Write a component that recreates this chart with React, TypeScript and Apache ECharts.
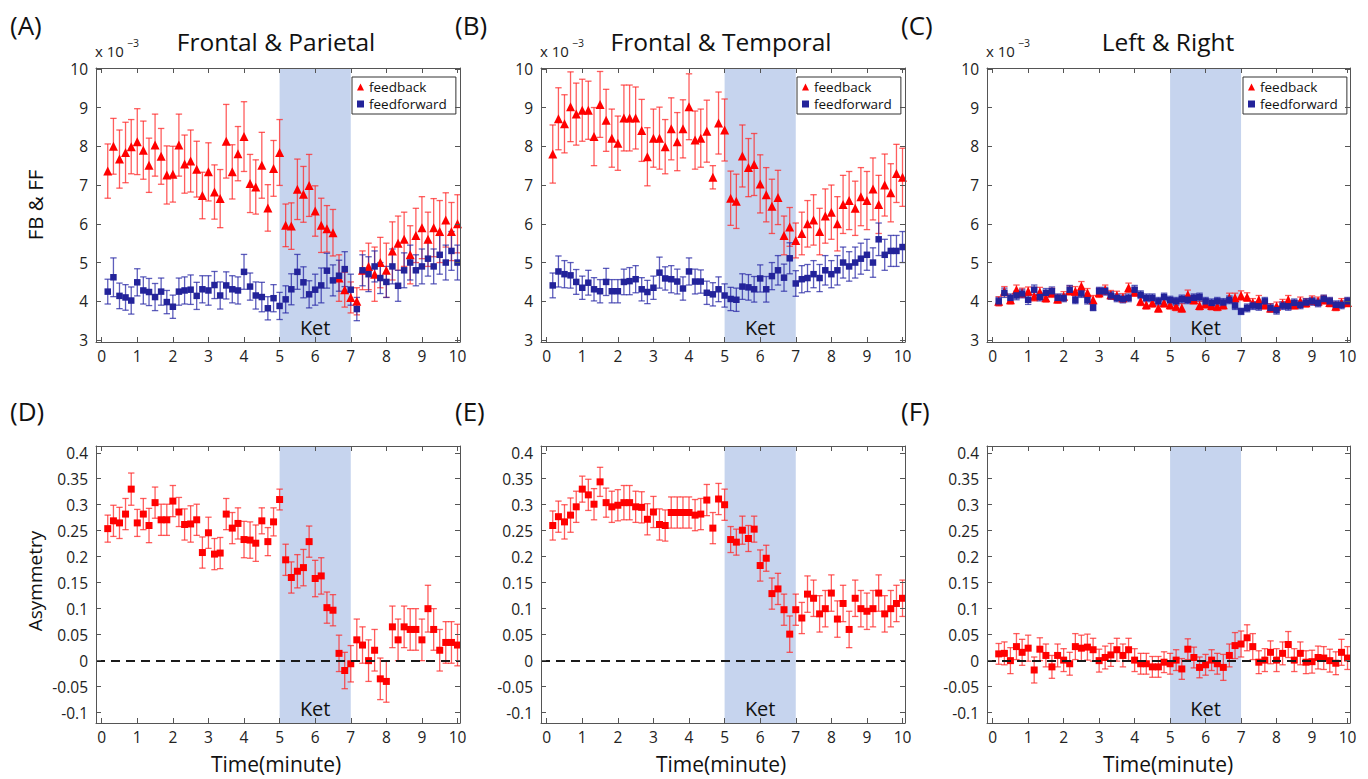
import React, { useEffect, useRef } from "react";
import * as echarts from "echarts";

const FONT = "'Open Sans', 'Noto Sans', sans-serif";

const times = [0.17, 0.33, 0.5, 0.67, 0.83, 1, 1.17, 1.33, 1.5, 1.67, 1.83, 2, 2.17, 2.33, 2.5, 2.67, 2.83, 3, 3.17, 3.33,
  3.5, 3.67, 3.83, 4, 4.17, 4.33, 4.5, 4.67, 4.83, 5, 5.17, 5.33, 5.5, 5.67, 5.83, 6, 6.17, 6.33, 6.5, 6.67,
  6.83, 7, 7.17, 7.33, 7.5, 7.67, 7.83, 8, 8.17, 8.33, 8.5, 8.67, 8.83, 9, 9.17, 9.33, 9.5, 9.67, 9.83, 10];

const timeTicks = [0, 1, 2, 3, 4, 5, 6, 7, 8, 9, 10];
const fbTicks = [3, 4, 5, 6, 7, 8, 9, 10];
const asymTicks = [-0.1, -0.05, 0, 0.05, 0.1, 0.15, 0.2, 0.25, 0.3, 0.35, 0.4];

const panelLetters = ["(A)", "(B)", "(C)", "(D)", "(E)", "(F)"];
const panelTitles = ["Frontal & Parietal", "Frontal & Temporal", "Left & Right"];
const ketStart = 5;
const ketEnd = 7;

// (A) Frontal & Parietal, x 10^-3
const fpFeedback = [7.36, 8.0, 7.67, 7.84, 7.99, 8.12, 7.9, 7.51, 8.03, 7.74, 7.26, 7.28, 8.03, 7.54, 7.62, 7.41, 6.73, 7.34, 6.82, 6.65,
  8.13, 7.34, 7.81, 8.25, 7.04, 6.95, 7.51, 6.41, 7.43, 7.84, 5.96, 5.94, 6.89, 6.76, 6.99, 6.33, 5.96, 5.87, 5.77, 4.6,
  4.3, 4.1, 4.0, 4.8, 4.9, 4.7, 5.0, 4.8, 5.3, 5.5, 5.6, 5.2, 5.7, 5.9, 5.6, 5.9, 5.8, 6.1, 5.8, 6.0];
const fpFeedbackErr = [0.7, 0.72, 0.75, 0.78, 0.7, 0.85, 0.75, 0.7, 0.8, 0.72, 0.75, 0.72, 0.8, 0.75, 0.8, 0.72, 0.6, 0.75, 0.7, 0.75,
  0.95, 0.7, 0.7, 0.9, 0.75, 0.7, 0.85, 0.6, 0.72, 0.85, 0.55, 0.6, 0.78, 0.72, 0.8, 0.65, 0.7, 0.6, 0.6, 0.6,
  0.45, 0.4, 0.35, 0.5, 0.6, 0.7, 0.65, 0.7, 0.75, 0.7, 0.7, 0.75, 0.7, 0.8, 0.7, 0.75, 0.8, 0.7, 0.75, 0.75];
const fpFeedforward = [4.25, 4.62, 4.14, 4.1, 4.02, 4.49, 4.28, 4.24, 4.11, 4.25, 3.98, 3.86, 4.25, 4.28, 4.3, 4.14, 4.31, 4.28, 4.42, 4.15,
  4.41, 4.31, 4.28, 4.76, 4.38, 4.15, 4.11, 3.82, 4.08, 3.88, 4.05, 4.31, 4.76, 4.49, 4.18, 4.3, 4.41, 4.79, 4.54, 4.66,
  4.83, 4.3, 3.8, 4.8, 4.7, 4.9, 4.6, 4.5, 4.9, 4.4, 4.8, 5.0, 4.8, 4.9, 5.1, 4.9, 5.2, 5.0, 5.3, 5.0];
const fpFeedforwardErr = [0.32, 0.5, 0.33, 0.33, 0.35, 0.35, 0.35, 0.35, 0.35, 0.35, 0.3, 0.3, 0.35, 0.35, 0.38, 0.35, 0.35, 0.38, 0.35, 0.35,
  0.35, 0.35, 0.35, 0.45, 0.35, 0.35, 0.38, 0.3, 0.35, 0.35, 0.35, 0.4, 0.45, 0.4, 0.35, 0.4, 0.45, 0.45, 0.4, 0.4,
  0.45, 0.4, 0.3, 0.4, 0.45, 0.4, 0.4, 0.4, 0.45, 0.4, 0.45, 0.45, 0.4, 0.45, 0.45, 0.45, 0.5, 0.45, 0.5, 0.45];

// (B) Frontal & Temporal, x 10^-3
const ftFeedback = [7.8, 8.71, 8.58, 9.02, 8.83, 8.93, 8.93, 8.25, 9.08, 8.67, 8.21, 8.08, 8.73, 8.73, 8.73, 8.41, 7.73, 8.21, 8.21, 7.99,
  8.45, 8.12, 8.45, 9.02, 8.16, 8.21, 8.39, 7.2, 8.6, 8.42, 6.66, 6.58, 7.75, 7.45, 7.53, 7.03, 6.75, 6.45, 6.68, 5.7,
  5.92, 5.57, 5.75, 6.0, 6.1, 5.8, 6.2, 6.3, 6.0, 6.5, 6.6, 6.4, 6.7, 6.6, 6.9, 6.5, 7.0, 6.8, 7.3, 7.2];
const ftFeedbackErr = [0.75, 0.8, 0.75, 0.9, 0.8, 0.8, 0.75, 0.75, 0.85, 0.8, 0.75, 0.7, 0.85, 0.85, 0.8, 0.8, 0.75, 0.75, 0.8, 0.7,
  0.8, 0.75, 0.75, 0.85, 0.75, 0.75, 0.8, 0.3, 0.8, 0.8, 0.7, 0.7, 0.8, 0.75, 0.8, 0.75, 0.7, 0.7, 0.7, 0.5,
  0.5, 0.45, 0.55, 0.6, 0.65, 0.6, 0.7, 0.7, 0.7, 0.75, 0.75, 0.7, 0.75, 0.75, 0.8, 0.75, 0.8, 0.75, 0.75, 0.75];
const ftFeedforward = [4.41, 4.77, 4.7, 4.67, 4.5, 4.35, 4.48, 4.31, 4.26, 4.5, 4.26, 4.26, 4.5, 4.52, 4.57, 4.31, 4.24, 4.35, 4.74, 4.59,
  4.57, 4.51, 4.33, 4.77, 4.51, 4.51, 4.22, 4.18, 4.31, 4.15, 4.06, 4.04, 4.38, 4.36, 4.31, 4.59, 4.31, 4.65, 4.8, 4.61,
  5.11, 4.46, 4.57, 4.6, 4.7, 4.6, 4.8, 4.7, 4.8, 5.0, 4.9, 5.0, 5.1, 5.2, 5.0, 5.6, 5.2, 5.3, 5.3, 5.4];
const ftFeedforwardErr = [0.32, 0.4, 0.35, 0.33, 0.32, 0.3, 0.32, 0.3, 0.3, 0.35, 0.3, 0.3, 0.33, 0.35, 0.35, 0.3, 0.3, 0.3, 0.4, 0.3,
  0.35, 0.32, 0.3, 0.35, 0.32, 0.3, 0.3, 0.3, 0.32, 0.3, 0.3, 0.3, 0.33, 0.33, 0.33, 0.35, 0.33, 0.35, 0.38, 0.35,
  0.4, 0.33, 0.35, 0.35, 0.35, 0.35, 0.38, 0.35, 0.38, 0.4, 0.38, 0.4, 0.4, 0.4, 0.38, 0.42, 0.4, 0.4, 0.4, 0.4];

// (C) Left & Right, x 10^-3
const lrFeedback = [4.0, 4.26, 4.04, 4.3, 4.22, 4.26, 4.13, 4.24, 4.09, 4.22, 4.06, 4.13, 4.28, 4.26, 4.39, 4.22, 4.04, 4.22, 4.3, 4.17,
  4.15, 4.09, 4.35, 4.24, 4.0, 3.91, 3.96, 3.83, 3.96, 3.91, 3.87, 3.83, 4.17, 4.04, 3.89, 3.94, 3.89, 3.87, 3.91, 4.09,
  4.09, 4.15, 4.11, 3.96, 4.04, 3.91, 3.83, 3.87, 3.94, 4.04, 3.91, 4.0, 3.96, 4.03, 4.0, 4.04, 3.97, 3.87, 3.96, 3.97];
const lrFeedbackErr = [0.12, 0.12, 0.11, 0.12, 0.12, 0.11, 0.12, 0.12, 0.11, 0.12, 0.11, 0.12, 0.12, 0.12, 0.12, 0.11, 0.11, 0.12, 0.12, 0.11,
  0.11, 0.11, 0.12, 0.11, 0.11, 0.11, 0.11, 0.11, 0.11, 0.11, 0.11, 0.11, 0.12, 0.11, 0.11, 0.11, 0.11, 0.11, 0.11, 0.12,
  0.12, 0.12, 0.11, 0.11, 0.11, 0.11, 0.11, 0.11, 0.11, 0.11, 0.11, 0.11, 0.11, 0.11, 0.11, 0.11, 0.11, 0.11, 0.11, 0.11];
const lrFeedforward = [4.0, 4.22, 4.09, 4.15, 4.2, 4.04, 4.3, 4.11, 4.22, 4.26, 4.09, 4.09, 4.3, 4.04, 4.2, 4.03, 3.84, 4.26, 4.26, 4.15,
  4.09, 4.06, 4.09, 4.3, 4.17, 4.09, 4.09, 4.0, 4.11, 4.03, 4.0, 4.06, 4.04, 4.09, 4.11, 4.0, 3.96, 4.0, 3.97, 4.04,
  3.89, 3.74, 3.83, 3.89, 3.87, 4.0, 3.83, 3.77, 3.89, 3.87, 3.96, 3.91, 3.97, 4.0, 3.96, 4.06, 4.0, 3.91, 3.91, 4.0];
const lrFeedforwardErr = [0.1, 0.12, 0.1, 0.11, 0.11, 0.12, 0.12, 0.1, 0.11, 0.11, 0.1, 0.1, 0.11, 0.1, 0.1, 0.1, 0.08, 0.1, 0.1, 0.1,
  0.1, 0.1, 0.1, 0.11, 0.1, 0.1, 0.1, 0.1, 0.1, 0.1, 0.1, 0.1, 0.1, 0.1, 0.1, 0.1, 0.1, 0.1, 0.1, 0.1,
  0.1, 0.08, 0.1, 0.1, 0.1, 0.1, 0.1, 0.1, 0.1, 0.1, 0.1, 0.1, 0.1, 0.1, 0.1, 0.1, 0.1, 0.1, 0.1, 0.1];

// (D)(E)(F) Asymmetry
const fpAsym = [0.254, 0.269, 0.265, 0.282, 0.33, 0.265, 0.282, 0.26, 0.304, 0.271, 0.271, 0.307, 0.286, 0.262, 0.263, 0.271, 0.208, 0.246, 0.205, 0.207,
  0.282, 0.255, 0.264, 0.233, 0.232, 0.226, 0.269, 0.229, 0.267, 0.31, 0.194, 0.16, 0.172, 0.179, 0.229, 0.158, 0.163, 0.102, 0.097, 0.014,
  -0.019, -0.006, 0.04, 0.03, 0.0, 0.02, -0.035, -0.04, 0.065, 0.04, 0.065, 0.06, 0.06, 0.04, 0.1, 0.06, 0.02, 0.035, 0.035, 0.03];
const fpAsymErr = [0.026, 0.03, 0.03, 0.03, 0.031, 0.026, 0.03, 0.033, 0.03, 0.03, 0.03, 0.03, 0.028, 0.03, 0.035, 0.03, 0.03, 0.03, 0.03, 0.03,
  0.03, 0.03, 0.03, 0.035, 0.035, 0.035, 0.025, 0.027, 0.027, 0.02, 0.03, 0.03, 0.032, 0.035, 0.03, 0.035, 0.035, 0.03, 0.03, 0.035,
  0.035, 0.035, 0.04, 0.035, 0.04, 0.04, 0.04, 0.04, 0.04, 0.04, 0.04, 0.04, 0.04, 0.04, 0.045, 0.04, 0.04, 0.04, 0.04, 0.04];
const ftAsym = [0.26, 0.277, 0.267, 0.28, 0.296, 0.33, 0.319, 0.301, 0.344, 0.304, 0.296, 0.299, 0.304, 0.304, 0.296, 0.295, 0.272, 0.286, 0.262, 0.26,
  0.285, 0.285, 0.285, 0.285, 0.28, 0.282, 0.309, 0.255, 0.311, 0.3, 0.233, 0.228, 0.251, 0.235, 0.253, 0.183, 0.197, 0.129, 0.138, 0.098,
  0.051, 0.098, 0.082, 0.128, 0.12, 0.09, 0.1, 0.13, 0.08, 0.11, 0.06, 0.12, 0.1, 0.095, 0.1, 0.13, 0.09, 0.1, 0.11, 0.12];
const ftAsymErr = [0.028, 0.03, 0.033, 0.033, 0.03, 0.025, 0.03, 0.03, 0.028, 0.028, 0.03, 0.03, 0.033, 0.033, 0.03, 0.03, 0.03, 0.03, 0.03, 0.03,
  0.03, 0.03, 0.03, 0.03, 0.03, 0.03, 0.03, 0.03, 0.03, 0.03, 0.025, 0.025, 0.027, 0.025, 0.025, 0.03, 0.025, 0.03, 0.03, 0.03,
  0.035, 0.03, 0.03, 0.035, 0.035, 0.035, 0.035, 0.035, 0.035, 0.035, 0.035, 0.035, 0.035, 0.035, 0.035, 0.035, 0.035, 0.035, 0.035, 0.035];
const lrAsym = [0.013, 0.014, 0.0, 0.027, 0.016, 0.024, -0.018, 0.022, 0.01, -0.012, 0.01, 0.001, -0.006, 0.027, 0.024, 0.026, 0.021, 0.0, 0.006, 0.011,
  0.021, 0.01, 0.021, 0.001, -0.006, -0.006, -0.012, -0.012, -0.003, -0.006, 0.001, -0.016, 0.022, 0.006, -0.013, -0.008, 0.001, -0.006, -0.013, 0.01,
  0.029, 0.032, 0.044, 0.027, -0.003, 0.001, 0.016, 0.001, 0.014, 0.031, 0.001, 0.014, -0.003, -0.002, 0.006, 0.005, 0.0, -0.005, 0.016, 0.005];
const lrAsymErr = [0.02, 0.022, 0.025, 0.025, 0.025, 0.025, 0.025, 0.022, 0.022, 0.022, 0.022, 0.022, 0.022, 0.025, 0.025, 0.025, 0.022, 0.022, 0.022, 0.022,
  0.022, 0.022, 0.022, 0.022, 0.02, 0.02, 0.02, 0.02, 0.02, 0.02, 0.02, 0.02, 0.02, 0.02, 0.02, 0.02, 0.02, 0.02, 0.025, 0.022,
  0.025, 0.025, 0.025, 0.025, 0.022, 0.022, 0.022, 0.022, 0.022, 0.025, 0.022, 0.022, 0.022, 0.022, 0.022, 0.022, 0.022, 0.022, 0.025, 0.022];

const RED = "#ff0000";
const RED_ERR = "rgba(255,40,40,0.75)";
const BLUE = "#23239a";
const BLUE_ERR = "rgba(40,40,165,0.75)";
const BAND = "#c6d4ee";
const AXIS = "#555555";

const GRIDS = [
  { left: 96, top: 68, width: 364, height: 274 },
  { left: 541, top: 68, width: 364, height: 274 },
  { left: 987, top: 68, width: 363, height: 274 },
  { left: 96, top: 446, width: 364, height: 277 },
  { left: 541, top: 446, width: 364, height: 277 },
  { left: 987, top: 446, width: 363, height: 277 },
];

function buildOption() {
  const grid: any[] = [];
  const xAxis: any[] = [];
  const yAxis: any[] = [];
  const series: any[] = [];

  GRIDS.forEach((g, gi) => {
    grid.push({ ...g, containLabel: false, outerBoundsMode: "none" });
    const isTop = gi < 3;
    const xCommon = {
      type: "value", gridIndex: gi, min: -0.16, max: 10.07, z: 10,
      axisLine: { show: true, onZero: false, lineStyle: { color: AXIS, width: 1 } },
      splitLine: { show: false },
    };
    xAxis.push({
      ...xCommon, position: "bottom",
      axisTick: { show: true, inside: true, length: 5, customValues: timeTicks, lineStyle: { color: AXIS } },
      axisLabel: { show: true, customValues: timeTicks, fontSize: 15.5, color: "#222", margin: 6, fontFamily: FONT },
    });
    xAxis.push({
      ...xCommon, position: "top",
      axisTick: { show: true, inside: true, length: 5, customValues: timeTicks, lineStyle: { color: AXIS } },
      axisLabel: { show: false },
    });
    const ticks = isTop ? fbTicks : asymTicks;
    const yCommon = {
      type: "value", gridIndex: gi, z: 10,
      min: isTop ? 2.95 : -0.12, max: isTop ? 10.02 : 0.413,
      axisLine: { show: true, onZero: false, lineStyle: { color: AXIS, width: 1 } },
      splitLine: { show: false },
    };
    yAxis.push({
      ...yCommon, position: "left",
      axisTick: { show: true, inside: true, length: 5, customValues: ticks, lineStyle: { color: AXIS } },
      axisLabel: {
        show: true, customValues: ticks, fontSize: 15.5, color: "#222", margin: 8, fontFamily: FONT,
        formatter: (v: number) => String(parseFloat(Number(v).toFixed(2))),
      },
    });
    yAxis.push({
      ...yCommon, position: "right",
      axisTick: { show: true, inside: true, length: 5, customValues: ticks, lineStyle: { color: AXIS } },
      axisLabel: { show: false },
    });

    // Ket band
    series.push({
      type: "custom", xAxisIndex: 2 * gi, yAxisIndex: 2 * gi, z: 1, silent: true,
      data: [[ketStart, ketEnd]],
      encode: { x: [0, 1] },
      renderItem: (params: any, api: any) => {
        const cs = params.coordSys;
        const x0 = api.coord([api.value(0), 0])[0];
        const x1 = api.coord([api.value(1), 0])[0];
        return {
          type: "group",
          children: [
            { type: "rect", shape: { x: x0, y: cs.y, width: x1 - x0, height: cs.height }, style: { fill: BAND } },
            {
              type: "text",
              style: {
                text: "Ket", x: (x0 + x1) / 2, y: cs.y + cs.height - 5,
                textAlign: "center", textVerticalAlign: "bottom", align: "center", verticalAlign: "bottom",
                fontSize: 20, fontFamily: FONT, fill: "#111",
              },
            },
          ],
        };
      },
    });
  });

  const errSeries = (gi: number, vals: number[], errs: number[], color: string) => ({
    type: "custom", xAxisIndex: 2 * gi, yAxisIndex: 2 * gi, z: 3, silent: true,
    data: times.map((t, i) => [t, vals[i], errs[i]]),
    encode: { x: 0, y: 1 },
    renderItem: (params: any, api: any) => {
      const x = api.value(0), y = api.value(1), e = api.value(2);
      const p1 = api.coord([x, y + e]);
      const p2 = api.coord([x, y - e]);
      const hw = 3.2;
      const st = { stroke: color, lineWidth: 1.3, fill: null };
      return {
        type: "group",
        children: [
          { type: "line", shape: { x1: p1[0], y1: p1[1], x2: p2[0], y2: p2[1] }, style: st },
          { type: "line", shape: { x1: p1[0] - hw, y1: p1[1], x2: p1[0] + hw, y2: p1[1] }, style: st },
          { type: "line", shape: { x1: p2[0] - hw, y1: p2[1], x2: p2[0] + hw, y2: p2[1] }, style: st },
        ],
      };
    },
  });

  const scatter = (gi: number, name: string, vals: number[], symbol: string, size: number, color: string) => ({
    type: "scatter", name, xAxisIndex: 2 * gi, yAxisIndex: 2 * gi, z: 4,
    symbol, symbolSize: size, itemStyle: { color, opacity: 1 },
    data: times.map((t, i) => [t, vals[i]]),
  });

  const topSets = [
    [fpFeedback, fpFeedbackErr, fpFeedforward, fpFeedforwardErr],
    [ftFeedback, ftFeedbackErr, ftFeedforward, ftFeedforwardErr],
    [lrFeedback, lrFeedbackErr, lrFeedforward, lrFeedforwardErr],
  ];
  topSets.forEach(([fb, fbE, ff, ffE], gi) => {
    series.push(errSeries(gi, fb, fbE, RED_ERR));
    series.push(scatter(gi, "feedback", fb, "triangle", 9, RED));
    series.push(errSeries(gi, ff, ffE, BLUE_ERR));
    series.push(scatter(gi, "feedforward", ff, "rect", 6.5, BLUE));
  });

  const botSets = [
    [fpAsym, fpAsymErr],
    [ftAsym, ftAsymErr],
    [lrAsym, lrAsymErr],
  ];
  botSets.forEach(([v, e], k) => {
    const gi = k + 3;
    series.push({
      type: "line", xAxisIndex: 2 * gi, yAxisIndex: 2 * gi, z: 2, data: [], silent: true,
      markLine: {
        silent: true, symbol: "none", label: { show: false },
        lineStyle: { color: "#1a1a1a", width: 2, type: [9, 6] },
        data: [{ yAxis: 0 }],
      },
    });
    series.push(errSeries(gi, v, e, RED_ERR));
    series.push(scatter(gi, "asymmetry", v, "rect", 7, RED));
  });

  const legend = [352, 797, 1243].map((left) => ({
    left, top: 77, orient: "vertical",
    data: [{ name: "feedback", icon: "triangle" }, { name: "feedforward", icon: "rect" }],
    itemWidth: 7, itemHeight: 7, itemGap: 3,
    padding: [3, 9, 3, 5],
    borderColor: "#333", borderWidth: 1, backgroundColor: "#fff",
    textStyle: { fontSize: 13.5, color: "#111", fontFamily: FONT },
    selectedMode: false,
  }));

  const graphic: any[] = [];
  const letterPos = [[10, 25], [455, 25], [901, 25], [10, 411], [455, 411], [901, 411]];
  panelLetters.forEach((t, i) => {
    graphic.push({
      type: "text", x: letterPos[i][0], y: letterPos[i][1],
      style: { text: t, fontSize: 26, fontFamily: FONT, fill: "#111", textVerticalAlign: "middle", verticalAlign: "middle" },
    });
  });
  const titleCx = [276, 721, 1168];
  panelTitles.forEach((t, i) => {
    graphic.push({
      type: "text", x: titleCx[i], y: 41,
      style: { text: t, fontSize: 24.5, fontFamily: FONT, fill: "#111", textAlign: "center", textVerticalAlign: "middle", align: "center", verticalAlign: "middle" },
    });
    graphic.push({
      type: "text", x: GRIDS[i].left - 1, y: 51,
      style: { text: "x 10", fontSize: 15, fontFamily: FONT, fill: "#222", textVerticalAlign: "middle", verticalAlign: "middle" },
    });
    graphic.push({
      type: "text", x: GRIDS[i].left + 31, y: 43,
      style: { text: "\u22123", fontSize: 10.5, fontFamily: FONT, fill: "#222", textVerticalAlign: "middle", verticalAlign: "middle" },
    });
    graphic.push({
      type: "text", x: titleCx[i], y: 764,
      style: { text: "Time(minute)", fontSize: 21, fontFamily: FONT, fill: "#111", textAlign: "center", textVerticalAlign: "middle", align: "center", verticalAlign: "middle" },
    });
  });
  graphic.push({
    type: "text", x: 35, y: 205, rotation: Math.PI / 2,
    style: { text: "FB & FF", fontSize: 20.5, fontFamily: FONT, fill: "#111", textAlign: "center", textVerticalAlign: "middle", align: "center", verticalAlign: "middle" },
  });
  graphic.push({
    type: "text", x: 35, y: 581, rotation: Math.PI / 2,
    style: { text: "Asymmetry", fontSize: 19, fontFamily: FONT, fill: "#111", textAlign: "center", textVerticalAlign: "middle", align: "center", verticalAlign: "middle" },
  });

  return {
    animation: false,
    backgroundColor: "#ffffff",
    textStyle: { fontFamily: FONT },
    grid, xAxis, yAxis, series, legend, graphic,
  };
}

export default function App() {
  const ref = useRef<HTMLDivElement>(null);
  useEffect(() => {
    if (!ref.current) return;
    const chart = echarts.init(ref.current, null, { renderer: "svg" });
    chart.setOption(buildOption() as any);
    return () => chart.dispose();
  }, []);
  return <div ref={ref} style={{ position: "fixed", left: 0, top: 0, width: 1368, height: 779 }} />;
}
